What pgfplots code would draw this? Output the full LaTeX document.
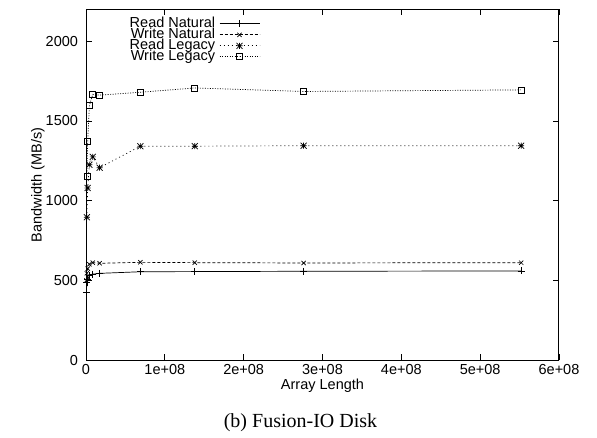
\documentclass[border=0pt]{standalone}
\usepackage{fontspec}
\setmainfont{Liberation Sans}
\newfontfamily\capfont{Liberation Serif}
\usepackage{pgfplots}
\pgfplotsset{compat=1.18}
\pgfdeclareplotmark{gpstar}{%
  \pgfpathmoveto{\pgfqpoint{-\pgfplotmarksize}{0pt}}\pgfpathlineto{\pgfqpoint{\pgfplotmarksize}{0pt}}%
  \pgfpathmoveto{\pgfqpoint{0pt}{-\pgfplotmarksize}}\pgfpathlineto{\pgfqpoint{0pt}{\pgfplotmarksize}}%
  \pgfpathmoveto{\pgfqpoint{-\pgfplotmarksize}{-\pgfplotmarksize}}\pgfpathlineto{\pgfqpoint{\pgfplotmarksize}{\pgfplotmarksize}}%
  \pgfpathmoveto{\pgfqpoint{-\pgfplotmarksize}{\pgfplotmarksize}}\pgfpathlineto{\pgfqpoint{\pgfplotmarksize}{-\pgfplotmarksize}}%
  \pgfusepathqstroke}
\begin{document}
\fontsize{14.5bp}{16bp}\selectfont
\begin{tikzpicture}
\useasboundingbox (-86bp,-77.7bp) rectangle (511bp,360.3bp);
\begin{axis}[
  at={(0,0)}, anchor=south west,
  scale only axis, width=473bp, height=351bp,
  /pgf/number format/assume math mode=true,
  xmin=0, xmax=6e8, ymin=0, ymax=2200,
  xtick={0,1e8,2e8,3e8,4e8,5e8,6e8},
  xticklabels={0,1e+08,2e+08,3e+08,4e+08,5e+08,6e+08},
  scaled x ticks=false,
  ytick={0,500,1000,1500,2000},
  yticklabels={0,500,1000,1500,2000},
  tick align=inside, major tick length=6bp,
  axis line style={line width=1bp},
  every tick/.style={black, line width=0.8bp},
  xticklabel style={yshift=1bp},
  yticklabel style={xshift=-3bp},
  xlabel={Array Length},
  ylabel={Bandwidth (MB/s)},
  xlabel style={at={(axis description cs:0.5,-0.072)}, anchor=center},
  ylabel style={at={(axis description cs:-0.102,0.5)}, anchor=center},
  legend plot pos=right,
  legend cell align=right,
  legend style={at={(rel axis cs:0.368,0.975)}, anchor=north east, draw=none, fill=none, inner sep=0pt,
    nodes={inner xsep=4bp, inner ysep=0pt, text height=9bp, text depth=2bp}},
  legend image code/.code={\draw[mark repeat=2,mark phase=2,#1] plot coordinates {(0bp,0bp)(20bp,0bp)(40bp,0bp)};},
  every axis plot/.append style={black, line width=0.7bp, mark options={solid, line width=0.7bp}},
]
\addplot[mark=+, mark size=3.5bp] coordinates {
(5.4e5,423)(1.08e6,490)(2.16e6,510)(4.3e6,530)(8.6e6,540)(1.725e7,545)(6.9e7,555)(1.38e8,556)(2.76e8,558)(5.52e8,560)};
\addlegendentry{Read Natural}
\addplot[mark=x, mark size=3bp, dash pattern=on 3bp off 2bp] coordinates {
(5.4e5,500)(1.08e6,545)(2.16e6,575)(4.3e6,602)(8.6e6,612)(1.725e7,608)(6.9e7,614)(1.38e8,612)(2.76e8,610)(5.52e8,612)};
\addlegendentry{Write Natural}
\addplot[mark=gpstar, mark size=3bp, dash pattern=on 1bp off 3bp] coordinates {
(1.08e6,897)(2.16e6,1080)(4.3e6,1226)(8.6e6,1275)(1.725e7,1207)(6.9e7,1342)(1.38e8,1342)(2.76e8,1345)(5.52e8,1345)};
\addlegendentry{Read Legacy}
\addplot[mark=square, mark size=3bp, dash pattern=on 1bp off 1.5bp] coordinates {
(1.08e6,1153)(2.16e6,1373)(4.3e6,1597)(8.6e6,1667)(1.725e7,1662)(6.9e7,1680)(1.38e8,1707)(2.76e8,1685)(5.52e8,1695)};
\addlegendentry{Write Legacy}
\end{axis}
\node[font=\capfont\fontsize{20bp}{22bp}\selectfont] at (214.5bp,-62bp) {(b) Fusion-IO Disk};
\end{tikzpicture}
\end{document}
